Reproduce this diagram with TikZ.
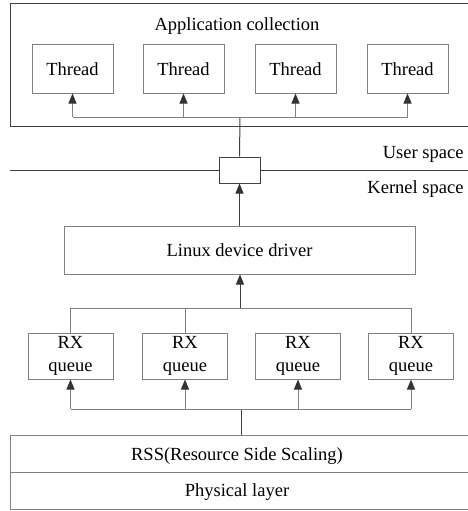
\documentclass[tikz,border=0pt]{standalone}
\usepackage{fontspec}
\setmainfont{Liberation Serif}
\usetikzlibrary{arrows.meta}
\definecolor{boxgray}{HTML}{808080}
\definecolor{linedark}{HTML}{404040}
\definecolor{tipdark}{HTML}{333333}
\begin{document}
\begin{tikzpicture}[x=1pt,y=-1pt,
  every node/.style={font=\fontsize{18.5}{23}\selectfont},
  box/.style={draw=boxgray,line width=1pt,fill=white,inner sep=0pt,align=center},
  layerbox/.style={draw=linedark,line width=1pt,inner sep=0pt},
  conn/.style={draw=linedark,line width=1pt},
  gconn/.style={draw=boxgray,line width=1pt},
  arr/.style={-{Triangle[width=8pt,length=10pt,color=tipdark]}}
]
\useasboundingbox (0,0) rectangle (468,511);
\clip (0,0) rectangle (468,511);
\fill[white] (0,0) rectangle (468,511);
% application collection
\node[layerbox,minimum width=470pt,minimum height=122pt] (app) at (245,65) {};
\node (title) at (237,26) {Application collection};
\foreach \i/\x in {1/72.5,2/183.5,3/295.5,4/407.5}{
  \node[box,minimum width=81pt,minimum height=48pt] (t\i) at (\x,69) {Thread};
}
% user/kernel line
\coordinate (ul) at (10,170);
\coordinate (ur) at (480,170);
\draw[conn] (ul) -- (ur);
\node[box,draw=linedark,minimum width=41pt,minimum height=26pt] (sock) at (239.5,170) {};
\node[anchor=east] (us) at (467,154) {User space};
\node[anchor=east] (ks) at (467,189) {Kernel space};
% junction to threads
\coordinate (j1) at (240,117);
\coordinate (j1l) at (72.5,117);
\coordinate (j1r) at (407.5,117);
\draw[conn] (sock.north) -- (j1);
\draw[gconn] (j1l) -- (j1r);
\foreach \i in {1,...,4}{
  \draw[gconn,arr] (j1l -| t\i.south) -- (t\i.south);
}
% linux driver
\node[box,minimum width=351pt,minimum height=48pt] (drv) at (239.5,250) {Linux device driver};
\draw[conn,arr] (drv.north -| sock.south) -- (sock.south);
% RX queues
\foreach \i/\x in {1/70.5,2/185,3/298,4/411}{
  \node[box,minimum width=85pt,minimum height=46pt] (rx\i) at (\x,356) {RX\\queue};
}
\coordinate (j2) at (240,308);
\draw[conn,arr] (j2) -- (drv.south -| j2);
\draw[gconn] (rx1.north |- j2) -- (rx4.north |- j2);
\draw[gconn] (rx1.north |- j2) -- (rx1.north);
\draw[gconn] (rx2.north |- j2) -- (rx2.north);
\draw[gconn] (rx4.north |- j2) -- (rx4.north);
% RSS and physical
\node[layerbox,draw=boxgray,minimum width=470pt,minimum height=37pt] (rssbox) at (245,453.5) {};
\node (rss) at (237,456) {RSS(Resource Side Scaling)};
\node[layerbox,draw=boxgray,minimum width=470pt,minimum height=37pt] (phybox) at (245,490.5) {};
\node (phy) at (237,492) {Physical layer};
\coordinate (j3) at (241,409);
\draw[conn] (rssbox.north -| j3) -- (j3);
\draw[gconn] (rx1.south |- j3) -- (rx4.south |- j3);
\foreach \i in {1,...,4}{
  \draw[gconn,arr] (rx\i.south |- j3) -- (rx\i.south);
}
\end{tikzpicture}
\end{document}
